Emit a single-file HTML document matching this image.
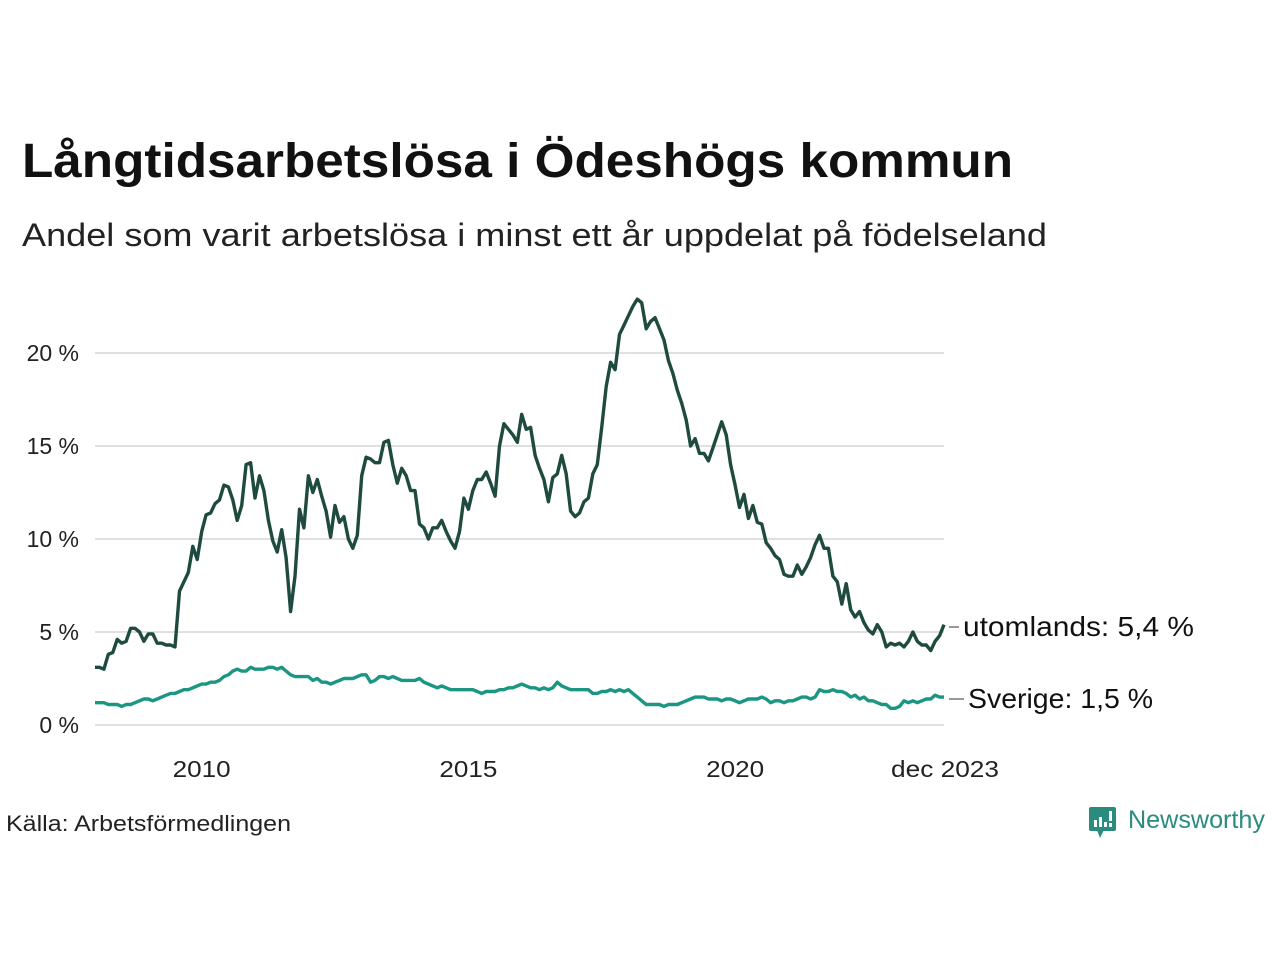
<!DOCTYPE html>
<html><head><meta charset="utf-8"><style>
body{margin:0;background:#fff;width:1280px;height:960px;overflow:hidden;font-family:"Liberation Sans","DejaVu Sans",sans-serif}
</style></head><body>
<svg width="1280" height="960" xmlns="http://www.w3.org/2000/svg">
<text x="22" y="177" font-size="48" font-weight="bold" fill="#111" textLength="991" lengthAdjust="spacingAndGlyphs">Långtidsarbetslösa i Ödeshögs kommun</text>
<text x="22" y="246" font-size="32" fill="#222" textLength="1025" lengthAdjust="spacingAndGlyphs">Andel som varit arbetslösa i minst ett år uppdelat på födelseland</text>
<g id="grid"></g><g id="lines"></g><g id="labels"></g>
<text x="6" y="831" font-size="22" fill="#222" textLength="285" lengthAdjust="spacingAndGlyphs">Källa: Arbetsförmedlingen</text>
<g>
<rect x="1089" y="807" width="27" height="24" rx="2" fill="#2a8c7e"/>
<polygon points="1097,830 1104,830 1100,838" fill="#2a8c7e"/>
<rect x="1094" y="820" width="3" height="7" fill="#fff"/><rect x="1099" y="817" width="3" height="10" fill="#fff"/><rect x="1104" y="822" width="3" height="5" fill="#fff"/><rect x="1109" y="811" width="3" height="10" fill="#fff"/><rect x="1109" y="823" width="3" height="4" fill="#fff"/>
<text x="1128" y="828" font-size="25" fill="#2a8c7e" textLength="137" lengthAdjust="spacingAndGlyphs">Newsworthy</text></g>
</svg>
<script>
const startYear=2008;
const xTicks=[2010,2015,2020];
const yTicks=[0,5,10,15,20];
const utomlands=[3.1,3.1,3.0,3.8,3.9,4.6,4.4,4.5,5.2,5.2,5.0,4.5,
4.9,4.9,4.4,4.4,4.3,4.3,4.2,7.2,7.7,8.2,9.6,8.9,
10.4,11.3,11.4,11.9,12.1,12.9,12.8,12.1,11.0,11.8,14.0,14.1,
12.2,13.4,12.6,11.0,9.9,9.3,10.5,9.0,6.1,8.0,11.6,10.6,
13.4,12.5,13.2,12.3,11.5,10.1,11.8,10.9,11.2,10.0,9.5,10.2,
13.4,14.4,14.3,14.1,14.1,15.2,15.3,14.0,13.0,13.8,13.4,12.6,
12.6,10.8,10.6,10.0,10.6,10.6,11.0,10.4,9.9,9.5,10.4,12.2,
11.6,12.6,13.2,13.2,13.6,13.0,12.3,15.0,16.2,15.9,15.6,15.2,
16.7,15.9,16.0,14.5,13.8,13.2,12.0,13.3,13.5,14.5,13.5,11.5,
11.2,11.4,12.0,12.2,13.5,14.0,16.0,18.2,19.5,19.1,21.0,21.5,
22.0,22.5,22.9,22.7,21.3,21.7,21.9,21.3,20.7,19.6,18.9,18.0,
17.3,16.4,15.0,15.4,14.6,14.6,14.2,14.9,15.6,16.3,15.6,14.0,
12.9,11.7,12.4,11.1,11.8,10.9,10.8,9.8,9.5,9.1,8.9,8.1,
8.0,8.0,8.6,8.1,8.5,9.0,9.7,10.2,9.5,9.5,8.0,7.7,
6.5,7.6,6.2,5.8,6.1,5.5,5.1,4.9,5.4,5.0,4.2,4.4,
4.3,4.4,4.2,4.5,5.0,4.5,4.3,4.3,4.0,4.5,4.8,5.4];
const sverige=[1.2,1.2,1.2,1.1,1.1,1.1,1.0,1.1,1.1,1.2,1.3,1.4,
1.4,1.3,1.4,1.5,1.6,1.7,1.7,1.8,1.9,1.9,2.0,2.1,
2.2,2.2,2.3,2.3,2.4,2.6,2.7,2.9,3.0,2.9,2.9,3.1,
3.0,3.0,3.0,3.1,3.1,3.0,3.1,2.9,2.7,2.6,2.6,2.6,
2.6,2.4,2.5,2.3,2.3,2.2,2.3,2.4,2.5,2.5,2.5,2.6,
2.7,2.7,2.3,2.4,2.6,2.6,2.5,2.6,2.5,2.4,2.4,2.4,
2.4,2.5,2.3,2.2,2.1,2.0,2.1,2.0,1.9,1.9,1.9,1.9,
1.9,1.9,1.8,1.7,1.8,1.8,1.8,1.9,1.9,2.0,2.0,2.1,
2.2,2.1,2.0,2.0,1.9,2.0,1.9,2.0,2.3,2.1,2.0,1.9,
1.9,1.9,1.9,1.9,1.7,1.7,1.8,1.8,1.9,1.8,1.9,1.8,
1.9,1.7,1.5,1.3,1.1,1.1,1.1,1.1,1.0,1.1,1.1,1.1,
1.2,1.3,1.4,1.5,1.5,1.5,1.4,1.4,1.4,1.3,1.4,1.4,
1.3,1.2,1.3,1.4,1.4,1.4,1.5,1.4,1.2,1.3,1.3,1.2,
1.3,1.3,1.4,1.5,1.5,1.4,1.5,1.9,1.8,1.8,1.9,1.8,
1.8,1.7,1.5,1.6,1.4,1.5,1.3,1.3,1.2,1.1,1.1,0.9,
0.9,1.0,1.3,1.2,1.3,1.2,1.3,1.4,1.4,1.6,1.5,1.5];
const NS="http://www.w3.org/2000/svg";
const X0=95,X1=944,Y0=725,PPU=18.6;
const n=utomlands.length;
function xm(i){return X0+(X1-X0)*i/(n-1);}
function xy(yr){return xm((yr-startYear)*12);}
function ys(v){return Y0-v*PPU;}
function mk(t,a,p){const e=document.createElementNS(NS,t);for(const k in a)e.setAttribute(k,a[k]);p.appendChild(e);return e;}
const grid=document.getElementById('grid'),lines=document.getElementById('lines'),labels=document.getElementById('labels');
yTicks.forEach(v=>{
 const l=mk('line',{x1:X0,x2:X1,y1:ys(v),y2:ys(v),stroke:'#e0e0e0','stroke-width':2},grid);
 
 
 const t=mk('text',{x:79,y:ys(v)+8,'font-size':23,fill:'#222','text-anchor':'end'},grid);
 t.textContent=v+' %';
 
 
});
xTicks.forEach(yr=>{
 const t=mk('text',{x:xy(yr),y:777,'font-size':23,fill:'#222','text-anchor':'middle',textLength:58,lengthAdjust:'spacingAndGlyphs'},grid);
 t.textContent=yr;
 
 
});
const tl=mk('text',{x:891,y:777,'font-size':23,fill:'#222',textLength:108,lengthAdjust:'spacingAndGlyphs'},grid);
tl.textContent='dec 2023';


function draw(arr,color,name,label,ly,lx,lw){
 const p=mk('polyline',{points:arr.map((v,i)=>xm(i).toFixed(1)+','+ys(v).toFixed(1)).join(' '),fill:'none',stroke:color,'stroke-width':3.4,'stroke-linejoin':'round'},lines);
 
 
 mk('line',{x1:X1+5,x2:lx-4,y1:ly-9,y2:ly-9,stroke:'#333','stroke-width':1},labels);
 const t=mk('text',{x:lx,y:ly,'font-size':28,fill:'#111',textLength:lw,lengthAdjust:'spacingAndGlyphs'},labels);
 t.textContent=label;
 
 
}
draw(sverige,'#1a9683','line-sverige','Sverige: '+String(sverige[n-1]).replace('.',',')+' %',708,968,185);
draw(utomlands,'#1f4a3f','line-utomlands','utomlands: '+String(utomlands[n-1]).replace('.',',')+' %',636,963,231);
</script>
</body></html>
